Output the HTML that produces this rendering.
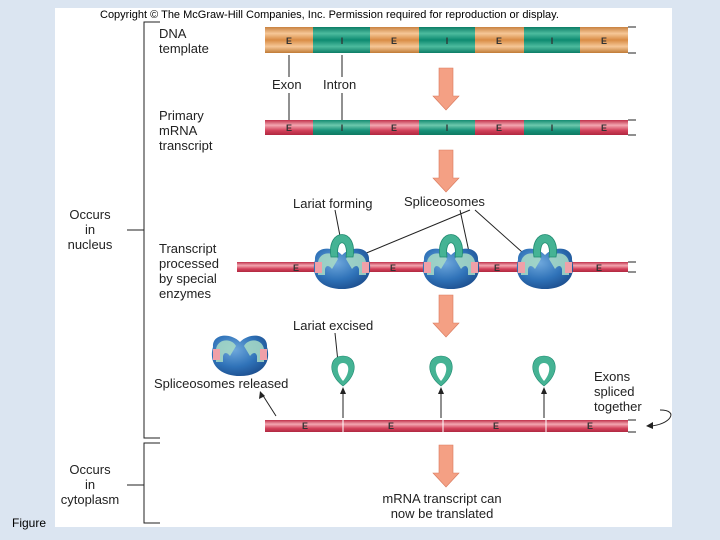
<!DOCTYPE html>
<html><head><style>
body{margin:0;width:720px;height:540px;background:#dbe5f1;overflow:hidden;font-family:"Liberation Sans",sans-serif}
svg{position:absolute;left:0;top:0}
</style></head><body>
<svg width="720" height="540" viewBox="0 0 720 540" font-family="Liberation Sans, sans-serif">
<defs>
<linearGradient id="or" x1="0" y1="0" x2="0" y2="1"><stop offset="0" stop-color="#c98240"/><stop offset=".25" stop-color="#f6c797"/><stop offset=".5" stop-color="#d98c45"/><stop offset=".75" stop-color="#f6c797"/><stop offset="1" stop-color="#c07a35"/></linearGradient>
<linearGradient id="te" x1="0" y1="0" x2="0" y2="1"><stop offset="0" stop-color="#0c7d66"/><stop offset=".25" stop-color="#4dbb9e"/><stop offset=".5" stop-color="#0d8a70"/><stop offset=".75" stop-color="#4dbb9e"/><stop offset="1" stop-color="#0c7d66"/></linearGradient>
<linearGradient id="rd" x1="0" y1="0" x2="0" y2="1"><stop offset="0" stop-color="#c0304a"/><stop offset=".35" stop-color="#f3a6b0"/><stop offset=".7" stop-color="#d2405a"/><stop offset="1" stop-color="#b02840"/></linearGradient>
<linearGradient id="tm" x1="0" y1="0" x2="0" y2="1"><stop offset="0" stop-color="#138a70"/><stop offset=".35" stop-color="#6cc8ad"/><stop offset=".7" stop-color="#169078"/><stop offset="1" stop-color="#0f7a62"/></linearGradient>
<radialGradient id="bl" cx=".4" cy=".35" r=".7"><stop offset="0" stop-color="#6fa8dc"/><stop offset=".6" stop-color="#2f72b8"/><stop offset="1" stop-color="#1d4f8f"/></radialGradient>
<g id="spl">
<path d="M-27,-5 C-28,-18 -10,-20 0,-10 C10,-20 28,-18 27,-5 C32,12 20,24 0,24 C-20,24 -32,12 -27,-5Z" fill="url(#bl)"/>
<path d="M-24,-3 C-22,-14 -8,-14 -4,-6 L-10,4 C-13,0 -16,0 -17,4 L-17,10 L-24,10Z" fill="#a9dcc6" opacity=".85"/>
<path d="M24,-3 C22,-14 8,-14 4,-6 L10,4 C13,0 16,0 17,4 L17,10 L24,10Z" fill="#a9dcc6" opacity=".85"/>
<rect x="-27" y="-3" width="7" height="11" fill="#f0a0a8"/>
<rect x="20" y="-3" width="7" height="11" fill="#f0a0a8"/>
</g>
<g id="loop"><path d="M-11,-8 C-16,-38 16,-38 11,-8 L4,-8 C7,-27 -7,-27 -4,-8Z" fill="#45b394" stroke="#1f8a70" stroke-width=".8"/></g>
<g id="lar"><path d="M0,16 C-16,4 -14,-14 0,-14 C14,-14 16,4 0,16Z" fill="#45b394" stroke="#1f8a70" stroke-width=".6"/><path d="M0,11 C-7,3 -7,-7 0,-7 C7,-7 7,3 0,11Z" fill="#fff"/></g>
<g id="arr"><path d="M-7,0 H7 V28 H13 L0,42 L-13,28 H-7Z" fill="#f4a084" stroke="#d97a5e" stroke-width=".6"/></g>
</defs>
<rect x="55" y="8" width="617" height="519" fill="#fff"/>
<text x="100" y="18" font-size="11">Copyright © The McGraw-Hill Companies, Inc. Permission required for reproduction or display.</text>
<text x="12" y="527" font-size="12">Figure</text>
<g font-size="13" fill="#222">
<text x="159" y="38">DNA</text><text x="159" y="53">template</text>
<text x="159" y="120">Primary</text><text x="159" y="135">mRNA</text><text x="159" y="150">transcript</text>
<text x="159" y="253">Transcript</text><text x="159" y="268">processed</text><text x="159" y="283">by special</text><text x="159" y="298">enzymes</text>
<text x="90" y="219" text-anchor="middle">Occurs</text><text x="90" y="234" text-anchor="middle">in</text><text x="90" y="249" text-anchor="middle">nucleus</text>
<text x="90" y="474" text-anchor="middle">Occurs</text><text x="90" y="489" text-anchor="middle">in</text><text x="90" y="504" text-anchor="middle">cytoplasm</text>
<text x="272" y="89">Exon</text><text x="323" y="89">Intron</text>
<text x="293" y="208">Lariat forming</text><text x="404" y="206">Spliceosomes</text>
<text x="293" y="330">Lariat excised</text>
<text x="154" y="388">Spliceosomes released</text>
<text x="594" y="381">Exons</text><text x="594" y="396">spliced</text><text x="594" y="411">together</text>
<text x="442" y="503" text-anchor="middle">mRNA transcript can</text><text x="442" y="518" text-anchor="middle">now be translated</text>
</g>
<g stroke="#222" fill="none" stroke-width="1">
<path d="M160,22 H144 V438 H160 M160,443 H144 V523 H160 M127,230 H144 M127,485 H144"/>
<path d="M289,55 V77 M289,93 V120 M342,55 V77 M342,93 V120"/>
<path d="M628,27 H636 M628,53 H636 M628,120 H636 M628,135 H636 M628,262 H636 M628,272 H636 M628,420 H636 M628,432 H636"/>
<path d="M335,210 L340,236 M470,210 L364,254 M460,210 L469,252 M475,210 L522,252"/>
<path d="M335,333 L338,362"/>
<path d="M343,418 V392 M441,418 V392 M544,418 V392 M276,416 L262,394"/>
<path d="M660,410 C680,410 670,425 650,426"/>
</g>
<g fill="#222"><path d="M343,387 l-3,7 h6z M441,387 l-3,7 h6z M544,387 l-3,7 h6z M260,391 l-1,8 l6,-3z M646,426 l7,-4 l0,7z"/></g>
<!-- DNA -->
<rect x="265" y="27" width="48" height="26" fill="url(#or)"/><rect x="313" y="27" width="57" height="26" fill="url(#te)"/>
<rect x="370" y="27" width="49" height="26" fill="url(#or)"/><rect x="419" y="27" width="56" height="26" fill="url(#te)"/>
<rect x="475" y="27" width="49" height="26" fill="url(#or)"/><rect x="524" y="27" width="56" height="26" fill="url(#te)"/>
<rect x="580" y="27" width="48" height="26" fill="url(#or)"/>
<!-- mRNA -->
<rect x="265" y="120" width="48" height="15" fill="url(#rd)"/><rect x="313" y="120" width="57" height="15" fill="url(#tm)"/>
<rect x="370" y="120" width="49" height="15" fill="url(#rd)"/><rect x="419" y="120" width="56" height="15" fill="url(#tm)"/>
<rect x="475" y="120" width="49" height="15" fill="url(#rd)"/><rect x="524" y="120" width="56" height="15" fill="url(#tm)"/>
<rect x="580" y="120" width="48" height="15" fill="url(#rd)"/>
<g font-size="9" font-weight="bold" fill="#333" text-anchor="middle">
<text x="289" y="44">E</text><text x="342" y="44">I</text><text x="394" y="44">E</text><text x="447" y="44">I</text><text x="499" y="44">E</text><text x="552" y="44">I</text><text x="604" y="44">E</text>
<text x="289" y="131">E</text><text x="342" y="131">I</text><text x="394" y="131">E</text><text x="447" y="131">I</text><text x="499" y="131">E</text><text x="552" y="131">I</text><text x="604" y="131">E</text>
</g>
<use href="#arr" x="446" y="68"/><use href="#arr" x="446" y="150"/><use href="#arr" x="446" y="295"/><use href="#arr" x="446" y="445"/>
<!-- processed -->
<rect x="237" y="262" width="391" height="10" fill="url(#rd)"/>
<g transform="translate(342,265)"><use href="#spl"/><use href="#loop"/></g>
<g transform="translate(451,265)"><use href="#spl"/><use href="#loop"/></g>
<g transform="translate(545,265)"><use href="#spl"/><use href="#loop"/></g>
<g font-size="9" font-weight="bold" fill="#333" text-anchor="middle"><text x="296" y="271">E</text><text x="393" y="271">E</text><text x="497" y="271">E</text><text x="599" y="271">E</text></g>
<g transform="translate(240,352)"><use href="#spl"/></g>
<use href="#lar" x="343" y="370"/><use href="#lar" x="441" y="370"/><use href="#lar" x="544" y="370"/>
<!-- spliced -->
<rect x="265" y="420" width="363" height="12" fill="url(#rd)"/>
<path d="M343,420 V432 M443,420 V432 M546,420 V432" stroke="#fff" stroke-width="1"/>
<g font-size="9" font-weight="bold" fill="#333" text-anchor="middle"><text x="305" y="429">E</text><text x="391" y="429">E</text><text x="496" y="429">E</text><text x="590" y="429">E</text></g>
</svg>
</body></html>
